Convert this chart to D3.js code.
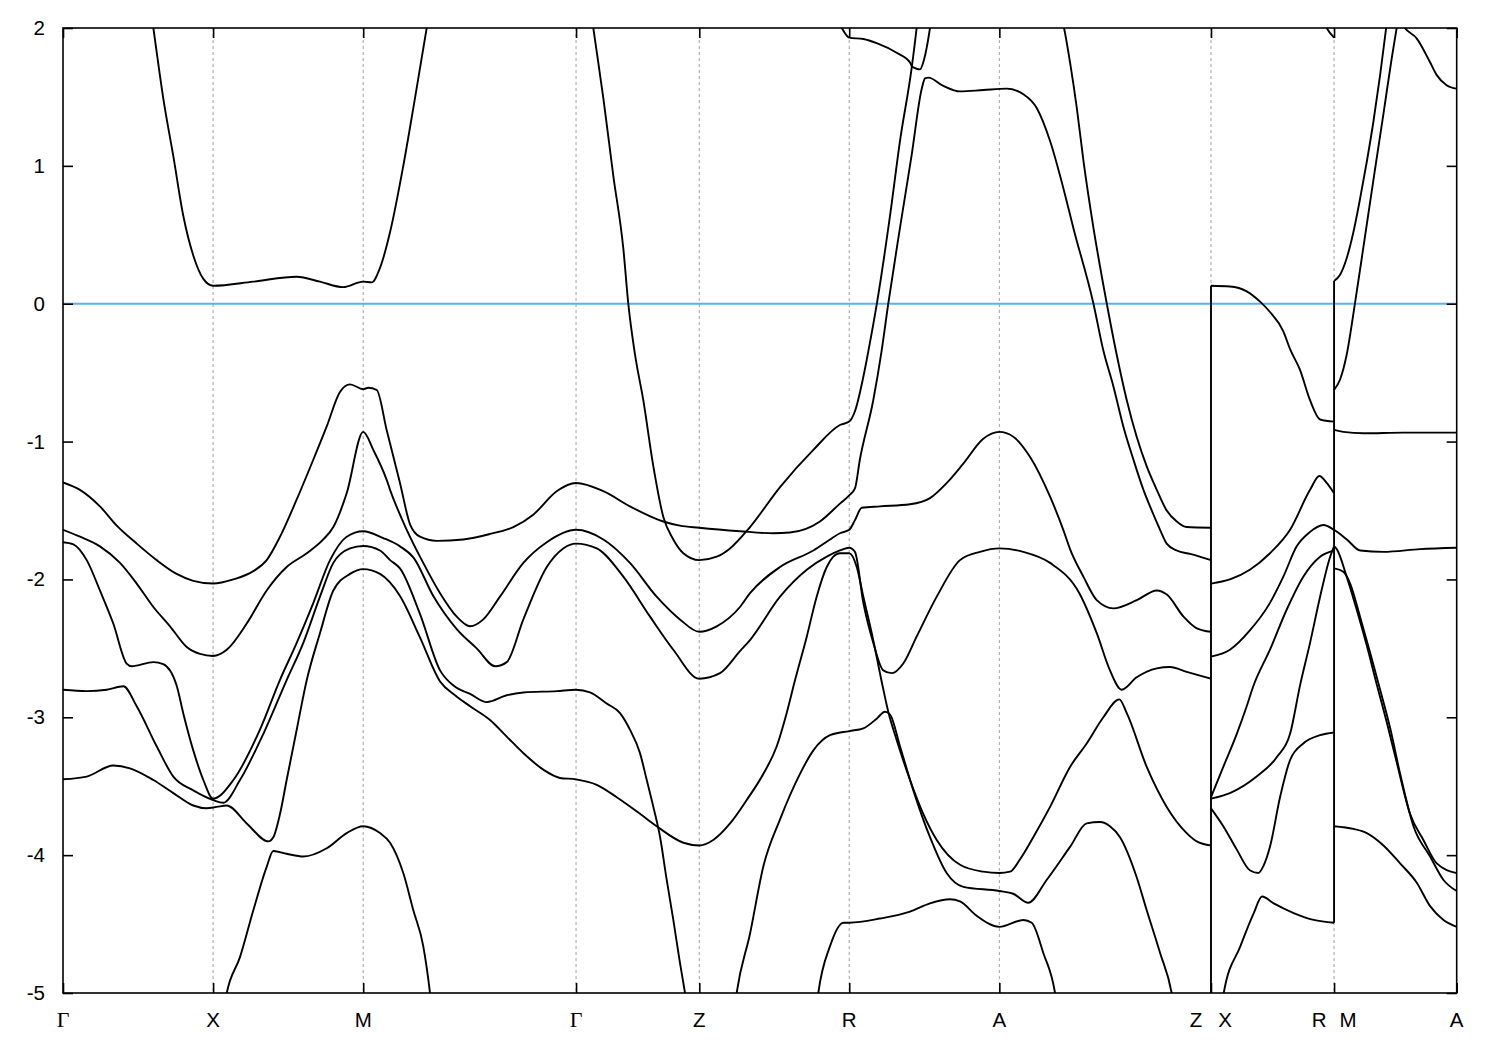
<!DOCTYPE html>
<html><head><meta charset="utf-8">
<script src="https://cdn.jsdelivr.net/npm/d3@7"></script>
<style>body{margin:0;background:#fff} svg{display:block}</style>
</head><body><svg id="c" width="1500" height="1050"></svg>
<script>
// k-path positions of the high-symmetry points (units of Γ–X length)
const kTicks = [0, 1, 2, 3.418, 4.239, 5.238, 6.238, 7.648, 8.468, 9.285];
const kLabels = ["Γ", "X", "M", "Γ", "Z", "R", "A", "Z|X", "R|M", "A"];
const eTicks = [2, 1, 0, -1, -2, -3, -4, -5];

// bands: [k, E (eV)]
const bandA = [[0.580,2.17],[0.602,2.0],[0.668,1.49],[0.735,1.07],[0.801,0.64],[0.868,0.35],[0.935,0.18],[1.0,0.13],[1.268,0.16],[1.557,0.196],[1.712,0.16],[1.867,0.12],[2.0,0.16],[2.057,0.155],[2.112,0.26],[2.179,0.52],[2.267,1.0],[2.334,1.42],[2.423,2.0],[2.452,2.2]];
const bandB = [[0,-1.296],[0.113,-1.35],[0.246,-1.47],[0.358,-1.61],[0.491,-1.74],[0.624,-1.86],[0.757,-1.96],[0.868,-2.01],[1.0,-2.03],[1.135,-2.0],[1.268,-1.94],[1.357,-1.86],[1.446,-1.69],[1.557,-1.42],[1.668,-1.13],[1.757,-0.89],[1.845,-0.64],[1.912,-0.585],[2.0,-0.62],[2.034,-0.61],[2.090,-0.626],[2.157,-0.92],[2.245,-1.30],[2.312,-1.60],[2.378,-1.69],[2.490,-1.72],[2.667,-1.71],[2.845,-1.67],[3.0,-1.62],[3.133,-1.53],[3.289,-1.36],[3.418,-1.30],[3.600,-1.36],[3.777,-1.47],[3.999,-1.58],[4.110,-1.61],[4.239,-1.625],[4.510,-1.65],[4.732,-1.665],[4.843,-1.66],[5.043,-1.58],[5.176,-1.45],[5.238,-1.39],[5.276,-1.34],[5.309,-1.13],[5.398,-0.70],[5.454,-0.34],[5.498,0.0],[5.576,0.55],[5.654,1.08],[5.721,1.56],[5.743,1.635],[5.765,1.64],[5.865,1.58],[5.976,1.54],[6.131,1.55],[6.287,1.56],[6.398,1.52],[6.487,1.42],[6.576,1.18],[6.664,0.84],[6.731,0.55],[6.865,0.0],[6.931,-0.34],[6.998,-0.60],[7.064,-0.89],[7.131,-1.13],[7.198,-1.35],[7.242,-1.47],[7.309,-1.64],[7.353,-1.74],[7.420,-1.79],[7.509,-1.815],[7.648,-1.86]];
const bandC = [[0,-1.64],[0.113,-1.69],[0.246,-1.76],[0.380,-1.88],[0.491,-2.03],[0.602,-2.20],[0.713,-2.34],[0.824,-2.49],[0.913,-2.54],[1.0,-2.555],[1.091,-2.51],[1.224,-2.32],[1.357,-2.08],[1.490,-1.91],[1.624,-1.81],[1.734,-1.71],[1.801,-1.62],[1.890,-1.375],[2.0,-0.93],[2.067,-1.06],[2.157,-1.28],[2.179,-1.35],[2.290,-1.64],[2.400,-1.88],[2.512,-2.10],[2.623,-2.27],[2.712,-2.34],[2.800,-2.29],[2.911,-2.125],[3.067,-1.88],[3.223,-1.73],[3.418,-1.64],[3.600,-1.71],[3.777,-1.88],[3.955,-2.125],[4.110,-2.29],[4.239,-2.38],[4.355,-2.34],[4.510,-2.20],[4.577,-2.10],[4.777,-1.91],[4.999,-1.79],[5.110,-1.71],[5.176,-1.665],[5.238,-1.64],[5.276,-1.57],[5.321,-1.48],[5.443,-1.47],[5.643,-1.455],[5.776,-1.41],[5.888,-1.30],[5.998,-1.16],[6.131,-0.98],[6.238,-0.93],[6.331,-0.965],[6.442,-1.11],[6.576,-1.40],[6.664,-1.64],[6.709,-1.78],[6.798,-1.98],[6.887,-2.15],[6.998,-2.21],[7.154,-2.15],[7.287,-2.08],[7.354,-2.11],[7.465,-2.27],[7.554,-2.355],[7.648,-2.38]];
const bandD = [[0,-1.73],[0.069,-1.745],[0.158,-1.86],[0.246,-2.08],[0.335,-2.32],[0.424,-2.61],[0.458,-2.63],[0.602,-2.60],[0.668,-2.615],[0.757,-2.77],[0.801,-2.97],[0.868,-3.24],[0.935,-3.455],[1.0,-3.59],[1.135,-3.455],[1.312,-3.09],[1.445,-2.73],[1.557,-2.46],[1.668,-2.17],[1.779,-1.86],[1.890,-1.69],[2.0,-1.65],[2.134,-1.70],[2.245,-1.76],[2.334,-1.84],[2.467,-2.12],[2.623,-2.36],[2.756,-2.50],[2.880,-2.63],[2.956,-2.60],[3.067,-2.29],[3.223,-1.91],[3.333,-1.775],[3.418,-1.74],[3.556,-1.775],[3.733,-1.98],[3.911,-2.27],[4.066,-2.51],[4.239,-2.72],[4.377,-2.68],[4.510,-2.52],[4.577,-2.44],[4.777,-2.125],[4.955,-1.93],[5.088,-1.835],[5.176,-1.79],[5.238,-1.77],[5.276,-1.80],[5.332,-2.17],[5.398,-2.46],[5.465,-2.66],[5.521,-2.68],[5.598,-2.61],[5.687,-2.415],[5.821,-2.125],[5.976,-1.86],[6.109,-1.80],[6.238,-1.775],[6.398,-1.80],[6.576,-1.88],[6.771,-2.10],[6.887,-2.39],[6.975,-2.66],[7.053,-2.80],[7.153,-2.71],[7.287,-2.645],[7.375,-2.635],[7.486,-2.67],[7.648,-2.72]];
const bandE = [[0,-2.80],[0.158,-2.81],[0.291,-2.80],[0.402,-2.775],[0.491,-2.92],[0.624,-3.21],[0.735,-3.43],[0.868,-3.53],[1.0,-3.60],[1.068,-3.62],[1.179,-3.455],[1.335,-3.12],[1.490,-2.73],[1.601,-2.46],[1.712,-2.125],[1.801,-1.88],[1.912,-1.775],[2.0,-1.757],[2.112,-1.79],[2.179,-1.86],[2.245,-1.92],[2.378,-2.25],[2.512,-2.66],[2.601,-2.77],[2.712,-2.83],[2.823,-2.89],[2.956,-2.84],[3.067,-2.82],[3.289,-2.81],[3.418,-2.80],[3.511,-2.82],[3.622,-2.90],[3.711,-2.97],[3.777,-3.09],[3.844,-3.26],[3.889,-3.455],[3.933,-3.65],[3.978,-3.87],[4.022,-4.18],[4.066,-4.47],[4.110,-4.78],[4.144,-5.0],[4.164,-5.14]];
const bandF = [[0,-3.45],[0.158,-3.43],[0.335,-3.35],[0.446,-3.37],[0.602,-3.455],[0.735,-3.55],[0.868,-3.64],[0.957,-3.66],[1.024,-3.65],[1.091,-3.64],[1.224,-3.77],[1.368,-3.90],[1.401,-3.87],[1.446,-3.70],[1.490,-3.455],[1.557,-3.09],[1.624,-2.73],[1.712,-2.39],[1.801,-2.08],[1.912,-1.96],[2.0,-1.925],[2.112,-1.96],[2.245,-2.12],[2.378,-2.42],[2.512,-2.74],[2.612,-2.84],[2.712,-2.92],[2.845,-3.02],[2.956,-3.14],[3.067,-3.26],[3.200,-3.38],[3.311,-3.44],[3.418,-3.45],[3.556,-3.49],[3.689,-3.58],[3.844,-3.70],[3.955,-3.79],[4.133,-3.91],[4.239,-3.93],[4.332,-3.89],[4.444,-3.77],[4.555,-3.60],[4.666,-3.41],[4.755,-3.21],[4.821,-2.97],[4.877,-2.73],[4.955,-2.415],[5.021,-2.125],[5.088,-1.91],[5.132,-1.835],[5.176,-1.81],[5.238,-1.81],[5.288,-1.91],[5.332,-2.125],[5.398,-2.44],[5.454,-2.74],[5.498,-2.96],[5.554,-3.165],[5.643,-3.455],[5.731,-3.70],[5.821,-3.89],[5.976,-4.07],[6.131,-4.12],[6.238,-4.13],[6.309,-4.12],[6.376,-4.03],[6.464,-3.87],[6.576,-3.65],[6.709,-3.36],[6.820,-3.19],[6.931,-3.0],[7.037,-2.87],[7.087,-2.97],[7.220,-3.36],[7.353,-3.65],[7.486,-3.84],[7.553,-3.90],[7.648,-3.93]];
const bandG = [[3.511,2.17],[3.533,2.0],[3.600,1.49],[3.666,0.93],[3.733,0.40],[3.766,0.0],[3.811,-0.37],[3.866,-0.70],[3.933,-1.18],[3.999,-1.545],[4.066,-1.71],[4.133,-1.81],[4.239,-1.86],[4.355,-1.835],[4.444,-1.775],[4.577,-1.62],[4.777,-1.33],[4.999,-1.06],[5.176,-0.88],[5.238,-0.855],[5.276,-0.78],[5.332,-0.53],[5.366,-0.34],[5.422,0.0],[5.510,0.64],[5.576,1.18],[5.654,1.71],[5.687,2.0],[5.702,2.15]];
const bandT1 = [[5.150,2.07],[5.188,2.0],[5.238,1.93],[5.332,1.92],[5.421,1.89],[5.554,1.82],[5.643,1.75],[5.656,1.72]];
const bandH = [[5.656,1.72],[5.709,1.70],[5.736,1.77],[5.776,2.0],[5.789,2.1]];
const bandT2 = [[8.394,2.06],[8.419,2.0],[8.468,1.93]];
const bandT3 = [[6.649,2.09],[6.669,2.0],[6.709,1.75],[6.754,1.42],[6.798,1.04],[6.865,0.55],[6.954,0.0],[7.020,-0.37],[7.087,-0.70],[7.153,-0.965],[7.220,-1.18],[7.287,-1.35],[7.353,-1.50],[7.420,-1.58],[7.486,-1.62],[7.648,-1.625]];
const bandX3 = [[4.464,-5.2],[4.488,-5.0],[4.577,-4.57],[4.666,-4.08],[4.777,-3.74],[4.910,-3.41],[4.999,-3.24],[5.110,-3.13],[5.238,-3.10],[5.332,-3.08],[5.421,-3.01],[5.476,-2.96],[5.510,-2.98],[5.576,-3.21],[5.665,-3.53],[5.776,-3.87],[5.887,-4.13],[5.998,-4.23],[6.238,-4.26],[6.331,-4.28],[6.431,-4.345],[6.553,-4.18],[6.709,-3.94],[6.820,-3.77],[6.909,-3.76],[6.975,-3.79],[7.042,-3.87],[7.153,-4.16],[7.220,-4.40],[7.309,-4.71],[7.386,-5.0],[7.408,-5.15]];
const bandL1 = [[5.010,-5.2],[5.032,-5.0],[5.110,-4.66],[5.199,-4.49],[5.238,-4.49],[5.443,-4.46],[5.643,-4.41],[5.776,-4.35],[5.909,-4.32],[5.976,-4.335],[6.087,-4.44],[6.238,-4.52],[6.398,-4.47],[6.454,-4.49],[6.531,-4.71],[6.609,-5.0],[6.629,-5.15]];
const bandI = [[1.059,-5.2],[1.091,-5.0],[1.179,-4.74],[1.268,-4.40],[1.357,-4.085],[1.401,-3.97],[1.490,-3.99],[1.601,-4.01],[1.757,-3.95],[1.890,-3.84],[2.0,-3.79],[2.112,-3.84],[2.179,-3.91],[2.267,-4.13],[2.334,-4.40],[2.400,-4.66],[2.445,-5.0],[2.465,-5.2]];
const bandXR1 = [[7.648,0.13],[7.774,0.125],[7.886,0.09],[7.975,0.015],[8.041,-0.06],[8.130,-0.20],[8.175,-0.33],[8.241,-0.48],[8.308,-0.70],[8.375,-0.84],[8.468,-0.855]];
const bandXR2 = [[7.648,-2.03],[7.774,-2.0],[7.907,-1.93],[8.041,-1.81],[8.175,-1.64],[8.308,-1.35],[8.370,-1.25],[8.419,-1.30],[8.468,-1.375]];
const bandXR3 = [[7.648,-2.56],[7.774,-2.51],[7.907,-2.37],[8.041,-2.17],[8.130,-1.98],[8.219,-1.76],[8.308,-1.655],[8.397,-1.605],[8.468,-1.64],[8.553,-1.71],[8.642,-1.79],[8.797,-1.80],[9.041,-1.78],[9.285,-1.77]];
const bandXRa = [[7.648,-3.58],[7.730,-3.36],[7.820,-3.12],[7.886,-2.92],[7.928,-2.78],[8.041,-2.51],[8.152,-2.22],[8.263,-1.98],[8.375,-1.835],[8.468,-1.79]];
const bandXRb = [[7.648,-3.59],[7.774,-3.55],[7.952,-3.43],[8.086,-3.29],[8.175,-3.12],[8.241,-2.77],[8.308,-2.46],[8.375,-2.125],[8.442,-1.835],[8.468,-1.76]];
const bandXRc = [[7.648,-3.66],[7.730,-3.79],[7.820,-3.96],[7.907,-4.11],[7.963,-4.13],[7.997,-4.08],[8.041,-3.94],[8.108,-3.58],[8.175,-3.31],[8.263,-3.19],[8.375,-3.13],[8.468,-3.11]];
const bandXRd = [[7.715,-5.15],[7.733,-5.0],[7.844,-4.66],[7.933,-4.42],[7.988,-4.30],[8.066,-4.35],[8.199,-4.42],[8.332,-4.47],[8.468,-4.49]];
const bandMA1 = [[8.468,0.165],[8.508,0.21],[8.552,0.33],[8.597,0.52],[8.641,0.76],[8.686,1.03],[8.730,1.32],[8.775,1.66],[8.815,2.0],[8.828,2.1]];
const bandMA2 = [[8.468,-0.626],[8.508,-0.55],[8.552,-0.37],[8.607,0.0],[8.662,0.40],[8.729,0.89],[8.796,1.37],[8.852,1.78],[8.885,2.0],[8.897,2.08]];
const bandMA3 = [[8.907,2.06],[8.940,2.0],[9.018,1.925],[9.106,1.755],[9.151,1.66],[9.218,1.585],[9.285,1.56]];
const bandMA4 = [[8.468,-0.915],[8.530,-0.93],[8.663,-0.94],[8.930,-0.935],[9.285,-0.935]];
const bandMA5 = [[8.468,-1.76],[8.486,-1.78],[8.552,-1.98],[8.619,-2.22],[8.686,-2.48],[8.752,-2.76],[8.820,-3.04],[8.886,-3.33],[8.974,-3.70],[9.063,-3.89],[9.152,-4.06],[9.285,-4.13]];
const bandMA6 = [[8.468,-1.92],[8.530,-1.945],[8.575,-2.03],[8.641,-2.27],[8.708,-2.53],[8.775,-2.80],[8.842,-3.08],[8.908,-3.41],[8.997,-3.79],[9.108,-4.01],[9.197,-4.18],[9.285,-4.26]];
const bandMA7 = [[8.468,-3.79],[8.597,-3.81],[8.686,-3.84],[8.797,-3.93],[8.908,-4.06],[9.019,-4.20],[9.108,-4.37],[9.197,-4.47],[9.285,-4.52]];
// vertical connections at the path discontinuities: [k, Elow, Ehigh]
const jumps = [[7.648, -5.0, 0.13], [8.468, -4.49, 0.165]];

const bands = [bandA, bandB, bandC, bandD, bandE, bandF, bandG, bandT1, bandH, bandT2, bandT3, bandX3, bandL1, bandI,
  bandXR1, bandXR2, bandXR3, bandXRa, bandXRb, bandXRc, bandXRd, bandMA1, bandMA2, bandMA3, bandMA4, bandMA5, bandMA6, bandMA7];

const W = 1500, H = 1050;
const P = {left: 63, right: 1456.7, top: 28, bottom: 993};
const x = d3.scaleLinear().domain([0, kTicks[kTicks.length - 1]]).range([P.left, P.right]);
const y = d3.scaleLinear().domain([-5, 2]).range([P.bottom, P.top]);
const svg = d3.select("#c");
svg.append("rect").attr("width", W).attr("height", H).attr("fill", "#fff");
svg.append("defs").append("clipPath").attr("id", "clip").append("rect")
  .attr("x", P.left).attr("y", P.top).attr("width", P.right - P.left).attr("height", P.bottom - P.top);

// dashed vertical grid
svg.append("g").selectAll("line").data(kTicks.slice(1, -1)).join("line")
  .attr("x1", d => x(d)).attr("x2", d => x(d)).attr("y1", P.top).attr("y2", P.bottom)
  .attr("stroke", "#a0a0a0").attr("stroke-width", 1).attr("stroke-dasharray", "3,3");

// Fermi level
svg.append("line").attr("x1", P.left).attr("x2", P.right).attr("y1", y(0)).attr("y2", y(0))
  .attr("stroke", "#56b4e9").attr("stroke-width", 2);

const bandLine = d3.line().x(d => x(d[0])).y(d => y(d[1])).curve(d3.curveMonotoneX);
const gBands = svg.append("g").attr("clip-path", "url(#clip)");
gBands.selectAll("path").data(bands).join("path")
  .attr("d", bandLine).attr("fill", "none").attr("stroke", "#000").attr("stroke-width", 1.9)
  .attr("stroke-linejoin", "round");
gBands.selectAll("line.jump").data(jumps).join("line").attr("class", "jump")
  .attr("x1", d => x(d[0])).attr("x2", d => x(d[0])).attr("y1", d => y(d[1])).attr("y2", d => y(d[2]))
  .attr("stroke", "#000").attr("stroke-width", 1.9);

// axes (inward ticks on all sides)
const fontSans = "'Liberation Sans', Arial, sans-serif";
const gAx = svg.append("g").attr("font-family", fontSans);
const axL = gAx.append("g").attr("transform", `translate(${P.left},0)`)
  .call(d3.axisLeft(y).tickValues(eTicks).tickSize(-10).tickPadding(18).tickFormat(d => String(d)));
gAx.append("g").attr("transform", `translate(${P.right},0)`)
  .call(d3.axisRight(y).tickValues(eTicks).tickSize(-10).tickFormat(""));
gAx.append("g").attr("transform", `translate(0,${P.bottom})`)
  .call(d3.axisBottom(x).tickValues(kTicks).tickSize(-10).tickFormat(""));
gAx.append("g").attr("transform", `translate(0,${P.top})`)
  .call(d3.axisTop(x).tickValues(kTicks).tickSize(-10).tickFormat(""));
gAx.selectAll(".domain").remove();
gAx.selectAll(".tick line").attr("stroke", "#000").attr("stroke-width", 1.6);
axL.selectAll("text").attr("font-size", 20.5).attr("fill", "#000").attr("font-family", fontSans);

// x labels
const gLab = svg.append("g").attr("font-size", 20.5).attr("fill", "#000");
kLabels.forEach((s, i) => {
  const parts = s.split("|");
  const offs = parts.length === 2 ? [-15, 14] : [0];
  parts.forEach((p, j) => {
    gLab.append("text").attr("x", x(kTicks[i]) + offs[j]).attr("y", 1027)
      .attr("text-anchor", "middle")
      .attr("font-family", p === "Γ" ? "'Liberation Serif', 'Times New Roman', serif" : fontSans)
      .attr("font-size", p === "Γ" ? 22 : 20.5)
      .text(p);
  });
});

// frame
svg.append("rect").attr("x", P.left).attr("y", P.top).attr("width", P.right - P.left).attr("height", P.bottom - P.top)
  .attr("fill", "none").attr("stroke", "#000").attr("stroke-width", 1.6);
</script></body></html>
